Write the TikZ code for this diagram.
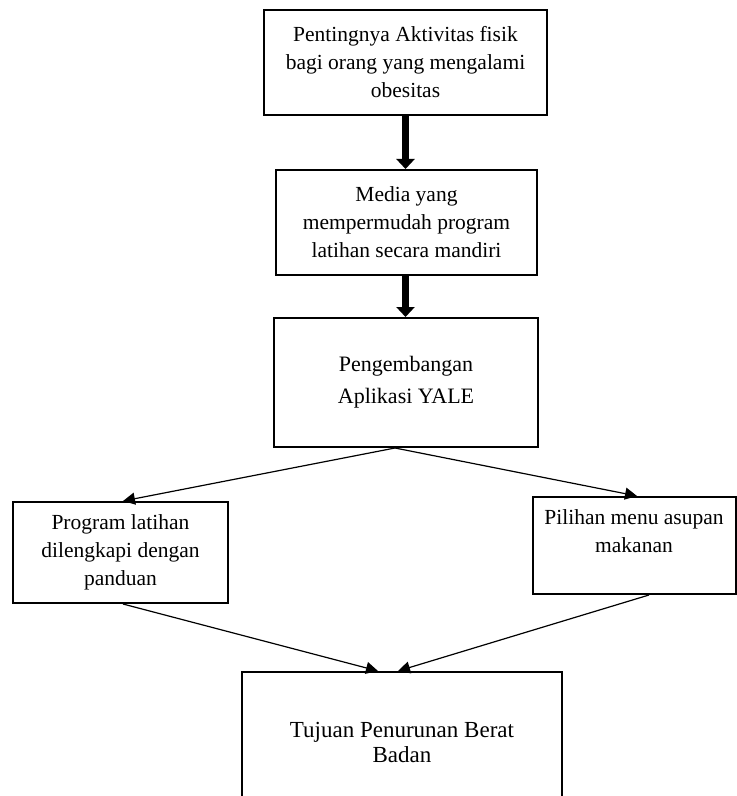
\documentclass[tikz,border=0pt]{standalone}
\usepackage{fontspec}
\setmainfont{Liberation Serif}
\usetikzlibrary{arrows.meta}
\begin{document}
\begin{tikzpicture}[x=0.5pt,y=-0.5pt]
        \tikzstyle{box}=[draw,line width=1pt,align=center,inner sep=0pt,font=\fontsize{10.75}{14}\selectfont]
        \tikzstyle{fat arrow}=[line width=3.5pt,-{Triangle[width=9pt,length=5pt]}]
        \tikzstyle{thin arrow}=[line width=0.6pt,-{Triangle[width=6pt,length=6pt]}]
        \clip (0,0) rectangle (737,796);
        \node[box,minimum width=141.5pt,minimum height=52.5pt] (aktivitas) at (405.5,62.5) {Pentingnya Aktivitas fisik\\bagi orang yang mengalami\\obesitas};
        \node[box,minimum width=130.5pt,minimum height=52.5pt] (media) at (406.5,222.5) {Media yang\\mempermudah program\\latihan secara mandiri};
        \node[box,minimum width=132pt,minimum height=64.5pt,font=\fontsize{11}{16}\selectfont] (yale) at (406,382.5) {Pengembangan\\Aplikasi YALE};
        \node[box,minimum width=107.5pt,minimum height=50.5pt] (program) at (120.5,552.5) {Program latihan\\dilengkapi dengan\\panduan};
        \node[box,minimum width=101.5pt,minimum height=48.5pt] (menu) at (634,545.5) {Pilihan menu asupan\\makanan\\\mbox{}};
        \node[box,minimum width=160pt,minimum height=70pt,font=\fontsize{11.5}{12.5}\selectfont] (tujuan) at (402,742) {Tujuan Penurunan Berat\\Badan};
        \draw[fat arrow] (aktivitas.south) -- (aktivitas.south |- media.north);
        \draw[fat arrow] ([xshift=-0.5pt]media.south) -- ([xshift=-0.5pt]media.south |- yale.north);
        \draw[thin arrow] ([xshift=-5.5pt]yale.south) -- ([xshift=1.25pt]program.north);
        \draw[thin arrow] ([xshift=-5.5pt]yale.south) -- ([xshift=1.5pt]menu.north);
        \draw[thin arrow] ([xshift=1.25pt]program.south) -- ([xshift=-12pt]tujuan.north);
        \draw[thin arrow] ([xshift=7.5pt]menu.south) -- ([xshift=-2pt]tujuan.north);
    \end{tikzpicture}
\end{document}
